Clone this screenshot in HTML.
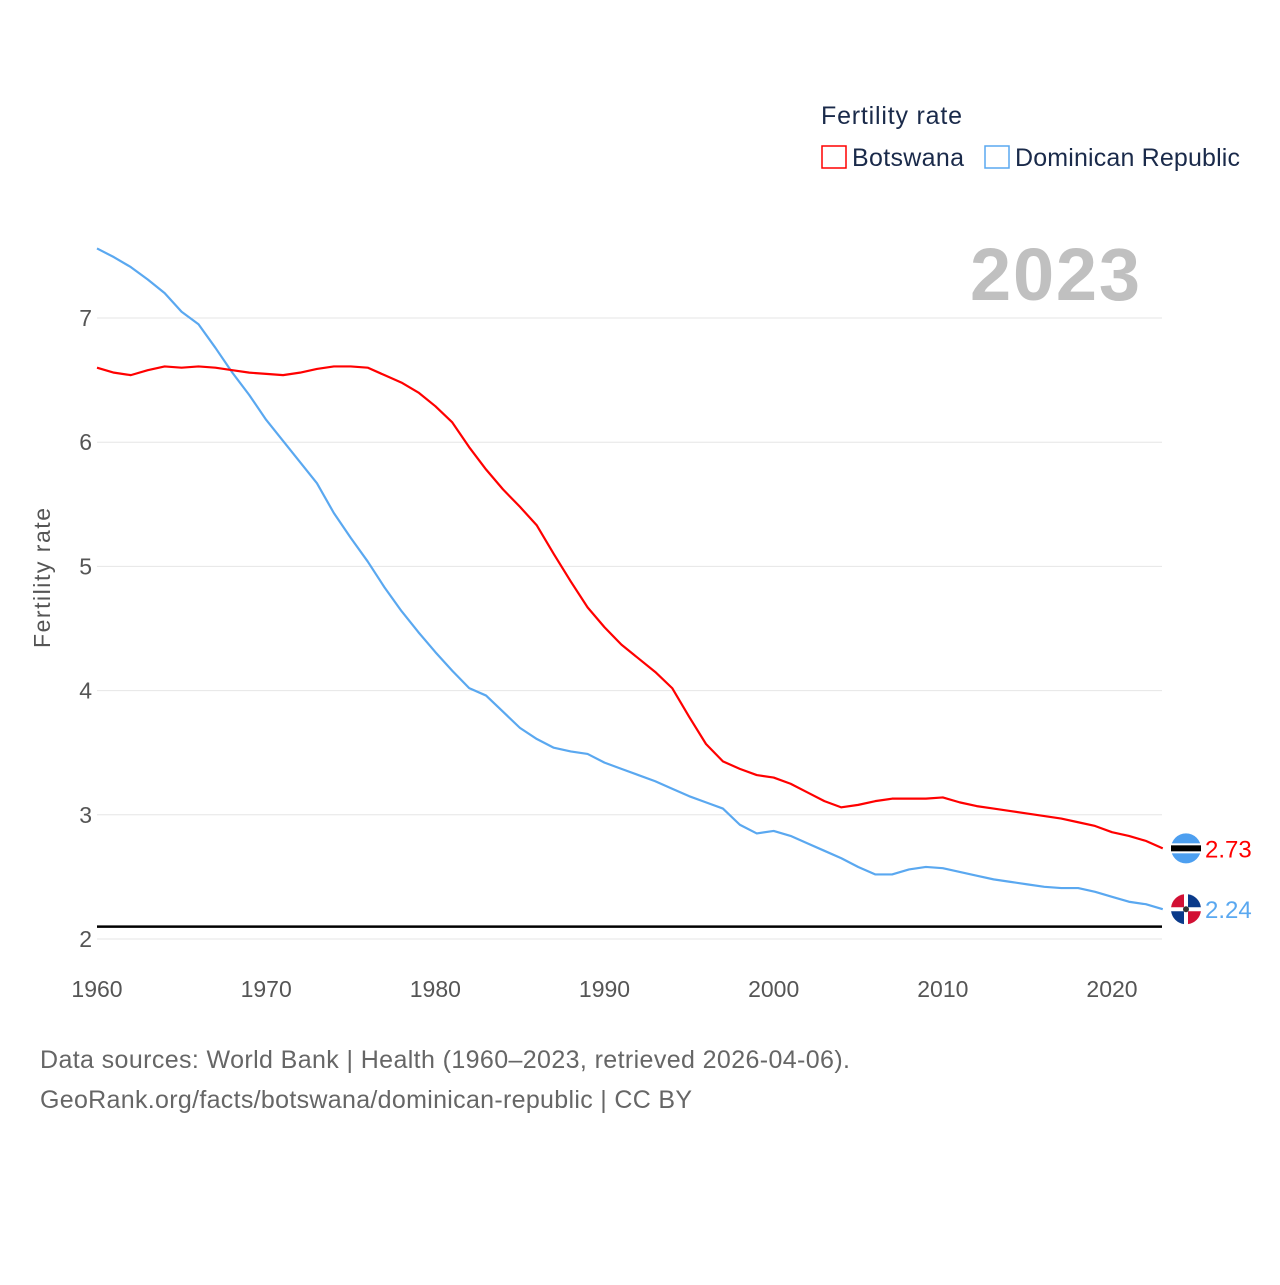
<!DOCTYPE html>
<html><head><meta charset="utf-8"><style>
body{margin:0;background:#fff;font-family:"Liberation Sans",sans-serif}
svg text{font-family:"Liberation Sans",sans-serif}
</style></head><body>
<svg id="chart" width="1280" height="1280">
<text x="821" y="124" font-size="25" fill="#1a2a4a" textLength="141">Fertility rate</text>
<g><rect x="822" y="146" width="24" height="22" fill="none" stroke="#f00" stroke-width="1.5"/><text x="852" y="166" font-size="25" fill="#1a2a4a" textLength="112">Botswana</text></g>
<g><rect x="985" y="146" width="24" height="22" fill="none" stroke="#5aa8f0" stroke-width="1.5"/><text x="1015" y="166" font-size="25" fill="#1a2a4a" textLength="225">Dominican Republic</text></g>
<text x="970" y="300" font-size="74" font-weight="bold" fill="#c0c0c0" textLength="170">2023</text>
<text transform="translate(50,578) rotate(-90)" font-size="23" fill="#555" text-anchor="middle" textLength="140">Fertility rate</text>
<g id="grid"></g><g id="series"></g>
<text x="40" y="1068" font-size="25" fill="#666" textLength="810">Data sources: World Bank | Health (1960–2023, retrieved 2026-04-06).</text>
<text x="40" y="1108" font-size="25" fill="#666" textLength="652">GeoRank.org/facts/botswana/dominican-republic | CC BY</text>
</svg>
<script>
const years=[];for(let y=1960;y<=2023;y++)years.push(y);
const botswana=[6.6,6.56,6.54,6.58,6.61,6.6,6.61,6.6,6.58,6.56,6.55,6.54,6.56,6.59,6.61,6.61,6.6,6.54,6.48,6.4,6.29,6.16,5.96,5.78,5.62,5.48,5.33,5.1,4.88,4.67,4.51,4.37,4.26,4.15,4.02,3.79,3.57,3.43,3.37,3.32,3.3,3.25,3.18,3.11,3.06,3.08,3.11,3.13,3.13,3.13,3.14,3.1,3.07,3.05,3.03,3.01,2.99,2.97,2.94,2.91,2.86,2.83,2.79,2.73];
const dominican=[7.56,7.49,7.41,7.31,7.2,7.05,6.95,6.76,6.56,6.38,6.18,6.01,5.84,5.67,5.43,5.23,5.04,4.83,4.64,4.47,4.31,4.16,4.02,3.96,3.83,3.7,3.61,3.54,3.51,3.49,3.42,3.37,3.32,3.27,3.21,3.15,3.1,3.05,2.92,2.85,2.87,2.83,2.77,2.71,2.65,2.58,2.52,2.52,2.56,2.58,2.57,2.54,2.51,2.48,2.46,2.44,2.42,2.41,2.41,2.38,2.34,2.3,2.28,2.24];
const yTicks=[2,3,4,5,6,7];
const xTicks=[1960,1970,1980,1990,2000,2010,2020];
const replacement=2.1;
const X=y=>97+(y-1960)*(1015/60);
const Y=v=>939-(v-2)*124.2;
const NS="http://www.w3.org/2000/svg";
function mk(tag,attrs,parent){const e=document.createElementNS(NS,tag);for(const k in attrs)e.setAttribute(k,attrs[k]);parent.appendChild(e);return e;}
const grid=document.getElementById('grid'),ser=document.getElementById('series');
yTicks.forEach(t=>{
 const l=mk('line',{x1:97,x2:1162,y1:Y(t),y2:Y(t),stroke:'#e6e6e6','stroke-width':1},grid);
 
 
 const tx=mk('text',{x:92,y:Y(t)+8,'font-size':23,fill:'#555','text-anchor':'end'},grid);tx.textContent=t;
 
 
});
xTicks.forEach(t=>{
 const tx=mk('text',{x:X(t),y:997,'font-size':23,fill:'#555','text-anchor':'middle'},grid);tx.textContent=t;
 
 
});
const rl=mk('line',{x1:97,x2:1162,y1:Y(replacement),y2:Y(replacement),stroke:'#000','stroke-width':2.5},ser);


function line(vals,color,name){
 const p=mk('polyline',{points:vals.map((v,i)=>X(years[i])+','+Y(v)).join(' '),fill:'none',stroke:color,'stroke-width':2.2,'stroke-linejoin':'round'},ser);
 
 
}
line(dominican,'#5aa8f0','dominican-republic');
line(botswana,'#f00','botswana');
const bl=botswana[botswana.length-1],dl=dominican[dominican.length-1];
const bx=1186,by=Y(bl),dx=1186,dy=Y(dl);
const bf=mk('g',{},ser);


mk('circle',{cx:bx,cy:by,r:15,fill:'#4d9ff0'},bf);
mk('rect',{x:bx-15,y:by-5,width:30,height:10,fill:'#fff'},bf);
mk('rect',{x:bx-15,y:by-3,width:30,height:6,fill:'#000'},bf);
const df=mk('g',{},ser);


mk('circle',{cx:dx,cy:dy,r:15,fill:'#fff'},df);
mk('path',{d:`M${dx-2},${dy-2} L${dx-2},${dy-14.9} A15,15 0 0 0 ${dx-14.9},${dy-2}Z`,fill:'#d21034'},df);
mk('path',{d:`M${dx+2},${dy-2} L${dx+14.9},${dy-2} A15,15 0 0 0 ${dx+2},${dy-14.9}Z`,fill:'#0a3a8a'},df);
mk('path',{d:`M${dx-2},${dy+2} L${dx-14.9},${dy+2} A15,15 0 0 0 ${dx-2},${dy+14.9}Z`,fill:'#0a3a8a'},df);
mk('path',{d:`M${dx+2},${dy+2} L${dx+2},${dy+14.9} A15,15 0 0 0 ${dx+14.9},${dy+2}Z`,fill:'#d21034'},df);
mk('circle',{cx:dx,cy:dy,r:3,fill:'#333'},df);
const t1=mk('text',{x:1205,y:by+9,'font-size':24,fill:'#f00'},ser);t1.textContent=bl.toFixed(2);


const t2=mk('text',{x:1205,y:dy+9,'font-size':24,fill:'#5aa8f0'},ser);t2.textContent=dl.toFixed(2);


</script>
</body></html>
